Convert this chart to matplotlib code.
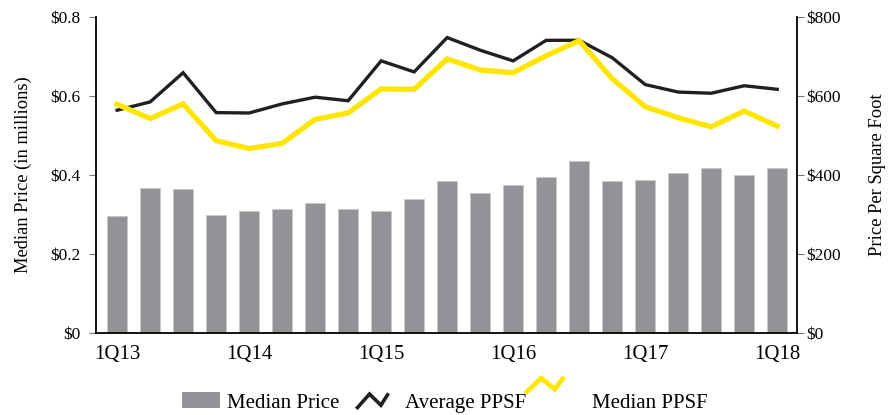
import matplotlib
matplotlib.use("Agg")
import matplotlib.pyplot as plt
from matplotlib.legend_handler import HandlerBase
from matplotlib.lines import Line2D
from matplotlib.patches import Patch
import numpy as np

plt.rcParams['font.family'] = ['Liberation Serif', 'DejaVu Serif']

quarters = ["1Q13", "2Q13", "3Q13", "4Q13", "1Q14", "2Q14", "3Q14", "4Q14",
            "1Q15", "2Q15", "3Q15", "4Q15", "1Q16", "2Q16", "3Q16", "4Q16",
            "1Q17", "2Q17", "3Q17", "4Q17", "1Q18"]
median_price = [0.295, 0.367, 0.364, 0.300, 0.308, 0.314, 0.329, 0.314, 0.309, 0.339,
                0.385, 0.354, 0.374, 0.394, 0.435, 0.384, 0.388, 0.404, 0.419, 0.399, 0.419]
average_ppsf = [564, 585, 659, 558, 557, 580, 597, 588, 689, 661, 748, 716, 689, 741,
                741, 697, 629, 610, 607, 626, 617]
median_ppsf = [579, 543, 580, 487, 467, 480, 541, 557, 618, 617, 694, 666, 659, 702,
               740, 644, 573, 545, 522, 562, 524]
left_ticks = [0, 0.2, 0.4, 0.6, 0.8]
left_labels = ["$0", "$0.2", "$0.4", "$0.6", "$0.8"]
right_ticks = [0, 200, 400, 600, 800]
right_labels = ["$0", "$200", "$400", "$600", "$800"]

BAR = "#939397"
BLACK = "#231f20"
YELLOW = "#ffe600"

fig = plt.figure(figsize=(8.93, 4.15), dpi=100)
ax = fig.add_axes([0.1075, 0.1976, 0.785, 0.7614])
ax2 = ax.twinx()

x = np.arange(len(quarters))
ax.bar(x, median_price, width=0.62, color=BAR, edgecolor="#c9c9cb", linewidth=0.6, zorder=2)
ax2.plot(x, average_ppsf, color=BLACK, lw=2.4, zorder=3, solid_joinstyle='miter')
ax2.plot(x, median_ppsf, color=YELLOW, lw=3.8, zorder=4, solid_joinstyle='miter')

ax.set_xlim(-0.64, 20.6)
ax.set_ylim(0, 0.8)
ax2.set_ylim(0, 800)

ax.set_xticks(x[::4])
ax.set_xticklabels(quarters[::4], fontsize=15)
ax.tick_params(axis='x', length=0, pad=9)

ax.set_yticks(left_ticks)
ax.set_yticklabels(left_labels, fontsize=12.5)
ax.tick_params(axis='y', direction='out', length=5, width=0.8, pad=6, color="#777777")
ax2.set_yticks(right_ticks)
ax2.set_yticklabels(right_labels, fontsize=12.5)
ax2.tick_params(axis='y', direction='out', length=5, width=0.8, pad=2, color="#777777")

for a in (ax, ax2):
    a.spines['top'].set_visible(False)
ax.spines['right'].set_visible(False)
ax2.spines['left'].set_visible(False)
ax2.spines['bottom'].set_visible(False)
for s in ('left', 'bottom'):
    ax.spines[s].set_linewidth(1.3)
ax2.spines['right'].set_linewidth(1.3)

ax.set_ylabel("Median Price (in millions)", fontsize=13.3, labelpad=13)
ax2.set_ylabel("Price Per Square Foot", fontsize=13.3, labelpad=20, rotation=90)


class HandlerZigzag(HandlerBase):
    def __init__(self, color, lw, dy=0.0, dx=0.0, scale=1.0):
        super().__init__()
        self.color = color
        self.lw = lw
        self.dy = dy
        self.dx = dx
        self.scale = scale

    def create_artists(self, legend, orig_handle, xdescent, ydescent, width, height,
                       fontsize, trans):
        w = width * self.scale
        xs = np.array([0.0, 0.4, 0.78, 1.0]) * w + (width - w) / 2 - xdescent + self.dx * fontsize
        ys = np.array([0.05, 0.9, 0.2, 0.85]) * height - ydescent + self.dy * height
        ln = Line2D(xs, ys, color=self.color, lw=self.lw, transform=trans,
                    solid_joinstyle='miter')
        return [ln]


h_bar = Patch(facecolor=BAR, edgecolor="none")
h_avg = Line2D([], [], color=BLACK)
h_med = Line2D([], [], color=YELLOW)
leg = fig.legend([h_bar, h_avg, h_med], ["Median Price", "Average PPSF", "Median PPSF"],
                 loc='center', bbox_to_anchor=(0.498, 0.03), ncol=3, frameon=False,
                 fontsize=15, handlelength=1.8, handleheight=0.8, columnspacing=1.0,
                 handletextpad=0.35,
                 handler_map={h_avg: HandlerZigzag(BLACK, 2.6, dx=-0.3, scale=0.8),
                              h_med: HandlerZigzag(YELLOW, 3.4, dy=1.0, dx=-1.0, scale=0.95)})

fig.savefig("out.png", dpi=100)
